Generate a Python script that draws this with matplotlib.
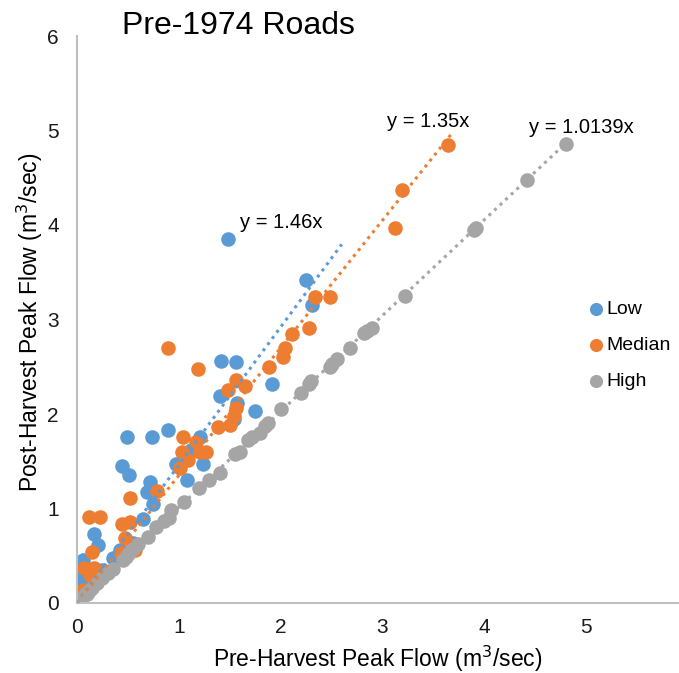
import numpy as np
import matplotlib.pyplot as plt

plt.rcParams['font.family'] = ['Liberation Sans', 'DejaVu Sans']

# Low series
low_x = [1.48, 2.25, 2.31, 1.41, 1.56, 1.91, 1.40, 1.57, 1.75, 1.54, 0.89, 0.49, 0.74, 1.21,
         0.97, 1.24, 0.44, 0.51, 0.72, 0.69, 1.08, 0.75, 0.65, 0.55, 0.17, 0.21, 0.06, 0.03,
         0.03, 0.13, 0.42, 1.12, 0.35, 0.25, 0.10, 0.08]
low_y = [3.85, 3.42, 3.15, 2.56, 2.55, 2.32, 2.19, 2.12, 2.03, 1.95, 1.83, 1.76, 1.76, 1.76,
         1.47, 1.47, 1.45, 1.35, 1.28, 1.17, 1.30, 1.05, 0.89, 0.63, 0.73, 0.61, 0.46, 0.26,
         0.14, 0.22, 0.56, 1.62, 0.48, 0.35, 0.30, 0.20]

# Median series
med_x = [3.64, 3.19, 3.12, 2.34, 2.48, 2.28, 2.11, 2.04, 2.02, 1.89, 1.56, 1.48, 1.65, 1.56,
         1.50, 1.38, 0.89, 1.19, 1.04, 1.17, 1.03, 1.21, 1.27, 1.09, 1.01, 0.79, 0.52, 0.44,
         0.52, 0.47, 0.57, 0.43, 0.23, 0.12, 0.15, 0.07, 0.17, 0.13, 0.01, 0.06, 0.21, 1.54]
med_y = [4.85, 4.37, 3.97, 3.24, 3.24, 2.91, 2.85, 2.70, 2.60, 2.50, 2.36, 2.25, 2.30, 2.06,
         1.88, 1.86, 2.70, 2.48, 1.76, 1.70, 1.60, 1.60, 1.60, 1.51, 1.43, 1.19, 1.11, 0.84,
         0.86, 0.69, 0.56, 0.53, 0.91, 0.91, 0.54, 0.37, 0.37, 0.30, 0.07, 0.14, 0.26, 1.98]

# High series
high_x = [4.80, 4.42, 3.92, 3.90, 3.22, 2.90, 2.85, 2.82, 2.68, 2.55, 2.50, 2.48, 2.30, 2.28,
          2.20, 2.00, 1.88, 1.85, 1.80, 1.72, 1.68, 1.60, 1.55, 1.40, 1.30, 1.20, 1.05, 0.92,
          0.90, 0.85, 0.78, 0.70, 0.60, 0.55, 0.50, 0.48, 0.45, 0.35, 0.30, 0.25, 0.20, 0.15,
          0.12, 0.10, 0.08, 0.05]
high_y = [4.86, 4.48, 3.97, 3.95, 3.25, 2.91, 2.88, 2.86, 2.70, 2.58, 2.53, 2.50, 2.35, 2.32,
          2.22, 2.05, 1.91, 1.87, 1.80, 1.76, 1.72, 1.60, 1.58, 1.38, 1.30, 1.22, 1.07, 0.98,
          0.90, 0.87, 0.80, 0.70, 0.62, 0.57, 0.52, 0.49, 0.46, 0.36, 0.32, 0.26, 0.21, 0.16,
          0.13, 0.10, 0.09, 0.05]

# trendlines: slope, end x
slopes = [1.46, 1.35, 1.0139]
trend_end = [2.6, 3.67, 4.85]
trend_labels = ['y = 1.46x', 'y = 1.35x', 'y = 1.0139x']

colors = ['#5B9BD5', '#ED7D31', '#A5A5A5']
names = ['Low', 'Median', 'High']

fig = plt.figure(figsize=(6.79, 6.73), dpi=100)
ax = fig.add_axes([77/679, 70/673, 611/679, 567/673])

series = [(low_x, low_y), (med_x, med_y), (high_x, high_y)]
for (xs, ys), c, n in zip(series, colors, names):
    ax.scatter(xs, ys, s=110, color=c, label=n, linewidths=0, zorder=2)

for m, xe, c in zip(slopes, trend_end, colors):
    xx = np.array([0, xe])
    ax.plot(xx, m * xx, linestyle=(0, (1, 1.5)), color=c, lw=2.2, zorder=3)

ax.text(1.60, 3.97, trend_labels[0], fontsize=14.5)
ax.text(3.04, 5.04, trend_labels[1], fontsize=14.5)
ax.text(4.44, 4.97, trend_labels[2], fontsize=14.5)

ax.set_xlim(0, 6)
ax.set_ylim(0, 6)
ax.set_xticks(range(0, 7))
ax.set_yticks(range(0, 7))
ax.tick_params(length=0, labelsize=15, colors='#1a1a1a')
ax.tick_params(axis='y', pad=13)
ax.tick_params(axis='x', pad=11)
for s in ['top', 'right']:
    ax.spines[s].set_visible(False)
for s in ['left', 'bottom']:
    ax.spines[s].set_color('#BFBFBF')
    ax.spines[s].set_linewidth(1.5)

ax.set_xlabel('Pre-Harvest Peak Flow (m$^3$/sec)', fontsize=16.5)
ax.set_ylabel('Post-Harvest Peak Flow (m$^3$/sec)', fontsize=16.5)
ax.xaxis.set_label_coords((378 - 77) / 611, -0.072)
ax.yaxis.set_label_coords(-0.052, (603 - 322) / 567)

fig.text(122/679, 1 - 26/673, 'Pre-1974 Roads', fontsize=23, va='center')

fig.legend(loc='upper left', bbox_to_anchor=(586/679, 1 - 300/673), frameon=False,
           fontsize=14, handletextpad=0.05, handlelength=1.0, labelspacing=0.95,
           markerscale=0.9, borderaxespad=0, borderpad=0)

fig.savefig('out.png', dpi=100)
